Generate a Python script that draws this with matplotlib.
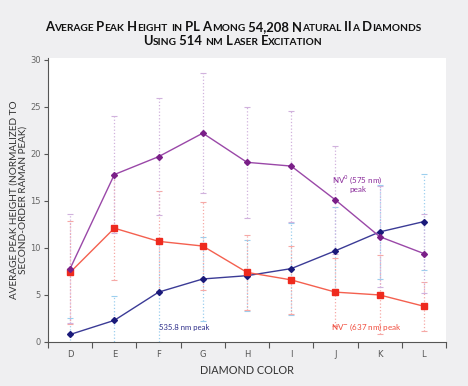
import numpy as np
import matplotlib.pyplot as plt

colors_cat = ['D', 'E', 'F', 'G', 'H', 'I', 'J', 'K', 'L']

# NV0 (575 nm) peak
nv0 = [7.8, 17.8, 19.7, 22.2, 19.1, 18.7, 15.1, 11.2, 9.4]
nv0_err = [5.8, 6.2, 6.2, 6.4, 5.9, 5.9, 5.7, 5.4, 4.2]
# NV- (637 nm) peak
nvm = [7.4, 12.1, 10.7, 10.2, 7.4, 6.6, 5.3, 5.0, 3.8]
nvm_err = [5.5, 5.5, 5.3, 4.7, 4.0, 3.65, 3.6, 4.2, 2.6]
# 535.8 nm peak
p535 = [0.8, 2.3, 5.3, 6.7, 7.05, 7.8, 9.7, 11.7, 12.8]
p535_err = [1.7, 2.6, 5.3, 4.5, 3.8, 4.9, 4.6, 5.0, 5.1]

title_lines = ['Average Peak Height in PL Among 54,208 Natural IIa Diamonds',
               'Using 514 nm Laser Excitation']

fig = plt.figure(figsize=(4.68, 3.86), dpi=100, facecolor='#efeff1')
ax = fig.add_axes([0.1026, 0.114, 0.8504, 0.736])
ax.set_facecolor('white')
x = np.arange(len(colors_cat))

# error bars (dotted, light)
for vals, errs, ec in [(p535, p535_err, '#9ccfee'),
                       (nvm, nvm_err, '#f6a9a6'),
                       (nv0, nv0_err, '#d1b2dd')]:
    eb = ax.errorbar(x, vals, yerr=errs, fmt='none', ecolor=ec, elinewidth=0.9,
                     capsize=2, capthick=0.8)
    eb[2][0].set_linestyle(':')

ax.plot(x, p535, color='#3b3b96', lw=1.0, marker='D', ms=3, mfc='#1a1a7a', mec='#1a1a7a')
ax.plot(x, nvm, color='#f4604f', lw=1.0, marker='s', ms=4.5, mfc='#ee2a1e', mec='#ee2a1e')
ax.plot(x, nv0, color='#9a48a8', lw=1.0, marker='D', ms=3, mfc='#7a1f88', mec='#7a1f88')

ax.text(2.0, 1.3, '535.8 nm peak', color='#2e2e8a', fontsize=5.6, family='Lato')
ax.text(6.5, 15.8, 'NV$^0$ (575 nm)\npeak', color='#8a2a9a', fontsize=5.8, family='Lato',
        ha='center', va='bottom', linespacing=1.1)
ax.text(6.7, 1.6, 'NV$^{-}$ (637 nm) peak', color='#f04a3a', fontsize=5.8, family='Lato',
        ha='center', va='center')

ax.set_xlim(-0.5, 8.5)
ax.set_ylim(0, 30.2)
ax.set_yticks(range(0, 31, 5))
ax.set_xticks(np.arange(-0.5, 9, 1))
ax.set_xticklabels([])
ax.set_xticks(x, minor=True)
ax.set_xticklabels(colors_cat, minor=True)
ax.tick_params(axis='x', which='major', length=4, color='#555555', width=0.8)
ax.tick_params(axis='x', which='minor', length=0, labelsize=6, labelcolor='#555555', pad=6)
ax.tick_params(axis='y', length=3, color='#555555', width=0.8, labelsize=6, labelcolor='#666666',
               pad=2)
for s in ['top', 'right']:
    ax.spines[s].set_visible(False)
for s in ['left', 'bottom']:
    ax.spines[s].set_color('#555555')
    ax.spines[s].set_linewidth(0.8)

ax.set_xlabel('DIAMOND COLOR', family='Lato', fontsize=7.8, color='#333333', labelpad=4)
ax.set_ylabel('AVERAGE PEAK HEIGHT (NORMALIZED TO\nSECOND-ORDER RAMAN PEAK)', family='Lato',
              fontsize=7.2, color='#333333', linespacing=1.0)
ax.yaxis.set_label_coords(-0.052, 0.5)

# title in small caps: capitals big, lowercase drawn as smaller capitals
fig.canvas.draw()
renderer = fig.canvas.get_renderer()
big, small = 9.4, 7.3


def runs(s):
    out = []
    for ch in s:
        size = small if ch.islower() else big
        if out and out[-1][1] == size:
            out[-1][0] += ch.upper()
        else:
            out.append([ch.upper(), size])
    return out


for line, ybase in zip(title_lines, [355, 341]):
    pieces = []
    for txt, size in runs(line):
        t = fig.text(0, ybase / 386, txt, fontsize=size, family='Lato', fontweight='bold',
                     color='#111111', va='baseline')
        w = t.get_window_extent(renderer).width
        pieces.append((t, w))
    total = sum(w for _, w in pieces)
    xpos = (fig.bbox.width - total) / 2 - 1
    for t, w in pieces:
        t.set_x(xpos / fig.bbox.width)
        xpos += w

fig.savefig('out.png', dpi=100, facecolor=fig.get_facecolor())
